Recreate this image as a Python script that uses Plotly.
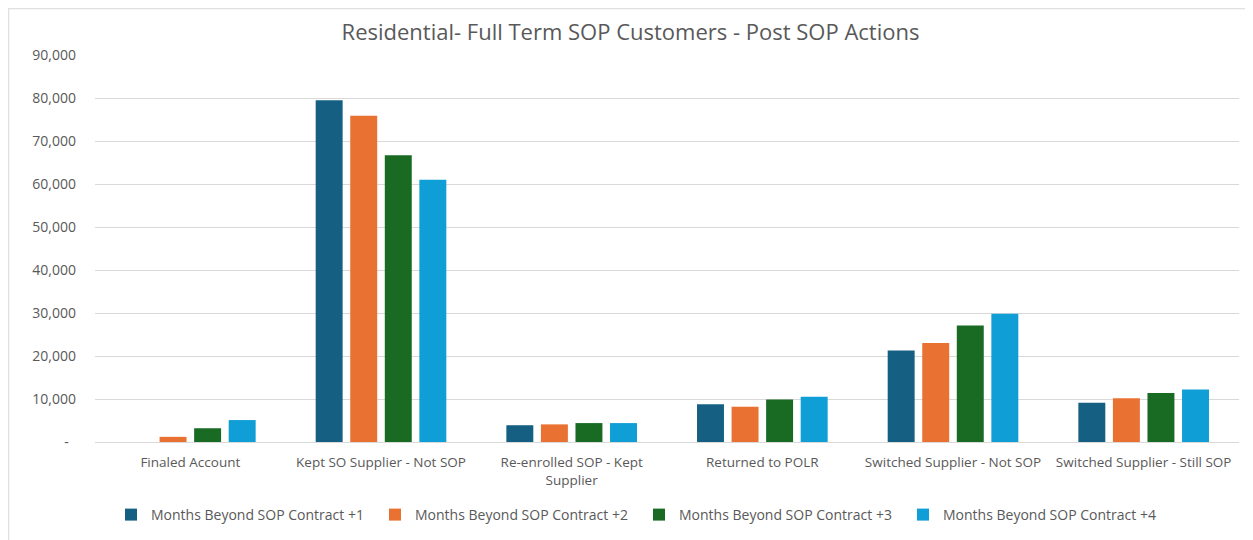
import plotly.graph_objects as go

categories = ["Finaled Account", "Kept SO Supplier - Not SOP", "Re-enrolled SOP - Kept<br>Supplier",
              "Returned to POLR", "Switched Supplier - Not SOP", "Switched Supplier - Still SOP"]
series_names = ["Months Beyond SOP Contract +1", "Months Beyond SOP Contract +2",
                "Months Beyond SOP Contract +3", "Months Beyond SOP Contract +4"]
plus1 = [0, 79500, 3900, 8800, 21300, 9100]
plus2 = [1200, 75900, 4100, 8200, 23000, 10200]
plus3 = [3200, 66700, 4400, 9900, 27100, 11400]
plus4 = [5100, 61000, 4400, 10500, 29800, 12200]
colors = ["#156082", "#E97132", "#196B24", "#0F9ED5"]
tick_vals = [0, 10000, 20000, 30000, 40000, 50000, 60000, 70000, 80000, 90000]
tick_text = ["-\u00a0\u00a0", "10,000", "20,000", "30,000", "40,000", "50,000", "60,000", "70,000", "80,000", "90,000"]

# page body has an 8px margin; figure coordinates = reference pixel - 8
W, H = 1245, 532
L, T, B = 87, 47, 98
R = W - (1239 - 8)
plot_h = H - T - B
plot_w = W - L - R

fig = go.Figure()
for name, vals, c in zip(series_names, [plus1, plus2, plus3, plus4], colors):
    fig.add_trace(go.Bar(x=categories, y=vals, name=name, marker=dict(color=c, line=dict(width=0))))

fig.update_layout(
    width=W, height=H,
    paper_bgcolor="white", plot_bgcolor="white",
    margin=dict(l=L, r=R, t=T, b=B, autoexpand=False),
    barmode="group", bargap=0.275, bargroupgap=0.22,
    font=dict(family="Open Sans, sans-serif", color="#595959", size=12),
    title=dict(text="Residential- Full Term SOP Customers - Post SOP Actions", x=0.5, xanchor="center",
               xref="container", y=1 - 24 / H, yanchor="middle", font=dict(size=22, color="#595959")),
    xaxis=dict(showline=True, linecolor="#d9d9d9", linewidth=1, ticks="", ticklabelstandoff=8,
               tickfont=dict(size=13.5, color="#595959")),
    yaxis=dict(range=[0, 90000], tickvals=tick_vals, ticktext=tick_text, showgrid=True, gridcolor="#d9d9d9",
               gridwidth=1, zeroline=False, ticks="", tickfont=dict(size=14, color="#595959"), ticklabelstandoff=18),
    legend=dict(orientation="h", x=(111 - 8 - L) / plot_w, xanchor="left", y=(H - B - 507) / plot_h, yanchor="middle",
                entrywidth=219, entrywidthmode="pixels", font=dict(size=14, color="#595959"),
                itemwidth=30, traceorder="normal"),
    shapes=[dict(type="rect", xref="paper", yref="paper", x0=(0.5 - L) / plot_w, x1=(W - 1.5 - L) / plot_w,
                 y0=(H - B - H - 2) / plot_h, y1=(H - B - 0.5) / plot_h, line=dict(color="#e0e0e0", width=1.5),
                 fillcolor="rgba(0,0,0,0)", layer="below")],
)
fig.write_html("out.html")
